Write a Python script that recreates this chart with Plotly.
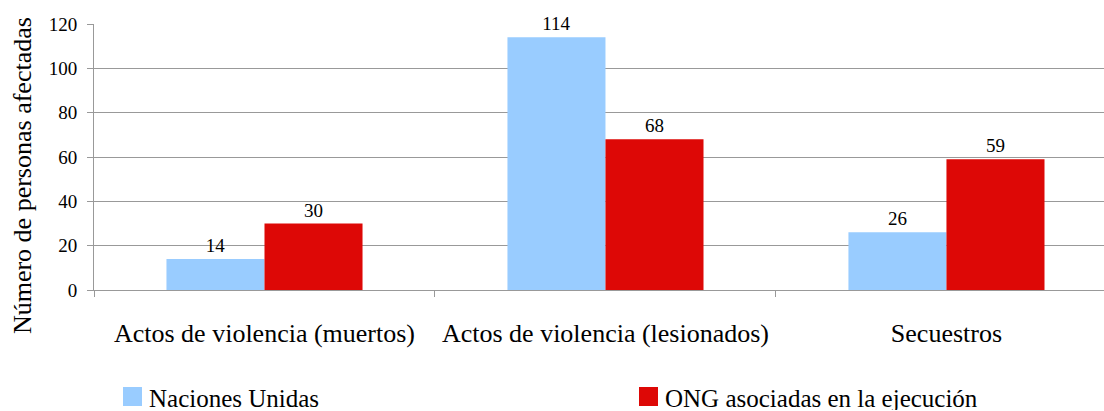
import plotly.graph_objects as go

categories = ["Actos de violencia (muertos)", "Actos de violencia (lesionados)", "Secuestros"]
naciones_unidas = [14, 114, 26]
ong = [30, 68, 59]
series_names = ["Naciones Unidas", "ONG asociadas en la ejecución"]
series_colors = ["#99CCFF", "#DD0806"]
y_ticks = [0, 20, 40, 60, 80, 100, 120]
y_title = "Número de personas afectadas"

FONT = "Times New Roman, Liberation Serif, serif"

fig = go.Figure()
for name, vals, col in zip(series_names, [naciones_unidas, ong], series_colors):
    fig.add_trace(go.Bar(
        x=categories, y=vals, name=name, showlegend=False,
        marker=dict(color=col, line=dict(width=0)),
        text=vals, textposition="outside", cliponaxis=False,
        textfont=dict(family=FONT, size=19, color="#000"),
    ))

# Legend drawn below the plot (square swatch + label), in paper coordinates
legend_x = [0.0287, 0.5396]
sw_w, y0, y1 = 0.0188, -0.4361, -0.3647
for lx, name, col in zip(legend_x, series_names, series_colors):
    fig.add_shape(type="rect", xref="paper", yref="paper",
                  x0=lx, x1=lx + sw_w, y0=y0, y1=y1,
                  fillcolor=col, line=dict(width=0))
    fig.add_annotation(xref="paper", yref="paper", x=lx + sw_w + 0.006, y=(y0 + y1) / 2 - 0.004,
                       xanchor="left", yanchor="middle", showarrow=False, text=name,
                       height=24, valign="middle", borderpad=0,
                       font=dict(family=FONT, size=25, color="#000"))

# Y-axis title (placed as in the reference, slightly below the plot's middle)
fig.add_annotation(xref="paper", yref="paper", x=-0.0713, y=0.432,
                   xanchor="center", yanchor="middle", textangle=-90, showarrow=False,
                   text=y_title, font=dict(family=FONT, size=26, color="#000"))

fig.update_layout(
    width=1104, height=411,
    margin=dict(l=94, r=0, t=24, b=121, autoexpand=False),
    paper_bgcolor="white", plot_bgcolor="white",
    barmode="group", bargap=0.425, bargroupgap=0,
    font=dict(family=FONT, size=19, color="#000"),
    showlegend=False,
    xaxis=dict(
        type="category", range=[-0.5, 2.462], automargin=False,
        showline=True, linecolor="#999999", linewidth=1,
        ticks="outside", tickson="boundaries", ticklen=6, tickcolor="#999999",
        showgrid=False, ticklabelstandoff=20,
        tickfont=dict(family=FONT, size=26, color="#000"),
    ),
    yaxis=dict(
        range=[0, 120], tickvals=y_ticks, automargin=False,
        showline=True, linecolor="#999999", linewidth=1,
        ticks="outside", ticklen=6, tickcolor="#999999",
        showgrid=True, gridcolor="#999999", gridwidth=1,
        zeroline=False, ticklabelstandoff=6,
        tickfont=dict(family=FONT, size=19, color="#000"),
    ),
)

fig.write_html("out.html", config={"displayModeBar": False},
               post_script="document.body.style.margin='0';")
